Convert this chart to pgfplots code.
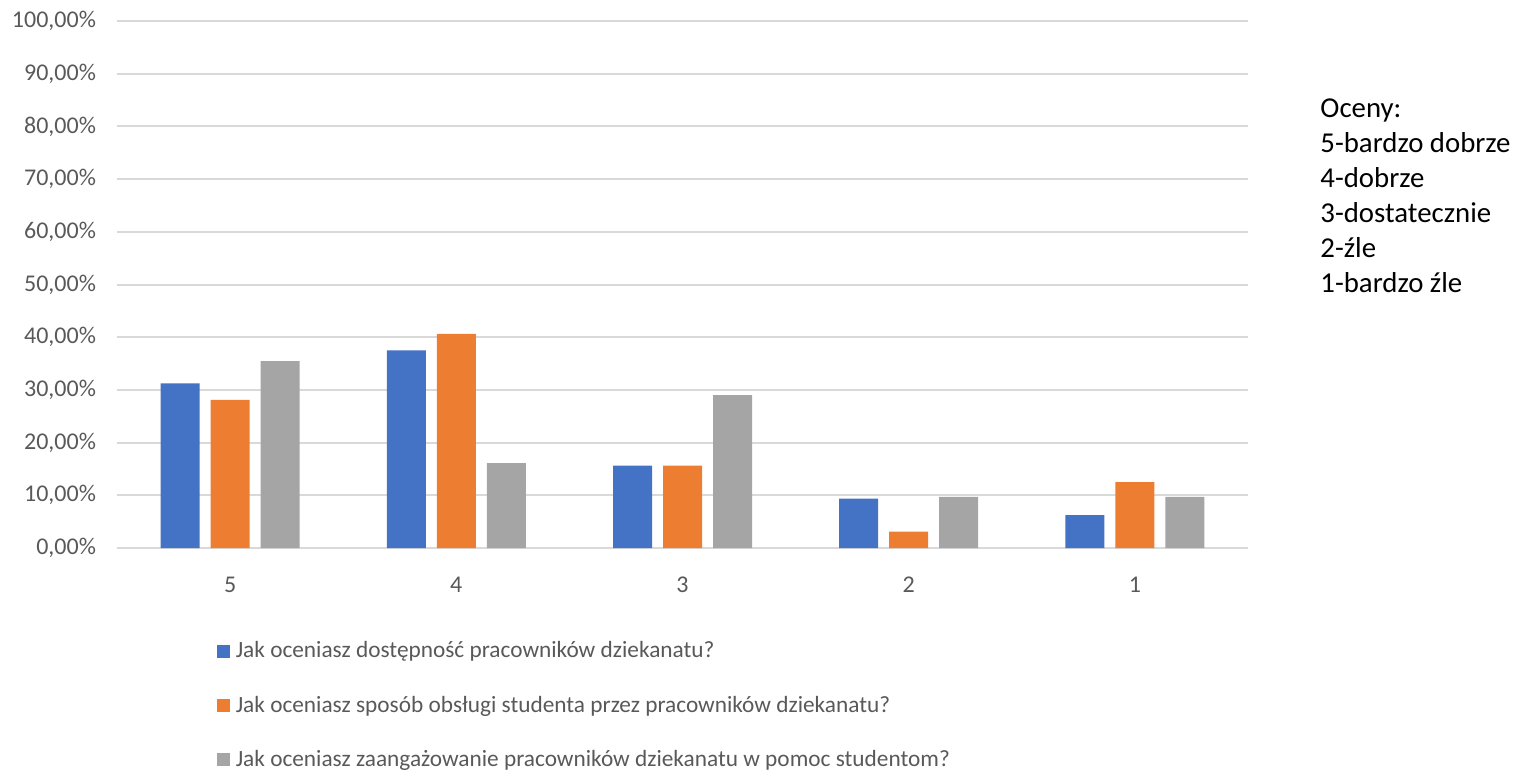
\documentclass[border=0pt]{standalone}
\usepackage{pgfplots}
\pgfplotsset{compat=1.18}
\usepackage{fontspec}
\setmainfont{Carlito}
\definecolor{cblue}{HTML}{4472C4}
\definecolor{corange}{HTML}{ED7D31}
\definecolor{cgray}{HTML}{A5A5A5}
\definecolor{ctext}{HTML}{595959}
\definecolor{cgrid}{HTML}{D9D9D9}
\begin{document}
\begin{tikzpicture}
\path[use as bounding box] (0,0) rectangle (764pt,386.5pt);
\begin{axis}[
  at={(58.5pt,112.5pt)}, anchor=south west,
  scale only axis, width=565.5pt, height=263.5pt,
  ybar=5.5pt, bar width=19.5pt,
  xmin=-0.5, xmax=4.5, ymin=0, ymax=1,
  xtick=data, xticklabels={5,4,3,2,1},
  ytick={0,0.1,...,1.01},
  yticklabels={{0,00\%},{10,00\%},{20,00\%},{30,00\%},{40,00\%},{50,00\%},{60,00\%},{70,00\%},{80,00\%},{90,00\%},{100,00\%}},
  /pgf/number format/assume math mode=true,
  axis line style={draw=none},
  major tick length=0pt,
  ymajorgrids, grid style={cgrid, line width=1pt},
  tick label style={font=\fontsize{12}{14}\selectfont, text=ctext},
  yticklabel style={anchor=east, xshift=-7pt},
  xticklabel style={anchor=north, yshift=-11pt},
  legend style={at={(0.0877,-0.171)}, anchor=north west, draw=none, fill=none,
    font=\fontsize{11.65}{14}\selectfont, text=ctext, row sep=14.6pt,
    legend cell align=left, inner sep=0pt, nodes={inner sep=1.5pt}},
  legend image code/.code={\fill[#1] (0pt,-3.3pt) rectangle (6.6pt,3.3pt);},
  legend cell align=left,
  clip=false,
]
\addplot[fill=cblue, draw=none] coordinates {(0,0.3125) (1,0.375) (2,0.15625) (3,0.09375) (4,0.0625)};
\addplot[fill=corange, draw=none] coordinates {(0,0.28125) (1,0.40625) (2,0.15625) (3,0.03125) (4,0.125)};
\addplot[fill=cgray, draw=none] coordinates {(0,0.3548) (1,0.1613) (2,0.2903) (3,0.0968) (4,0.0968)};
\legend{\hspace{1.5pt}Jak oceniasz dostępność pracowników dziekanatu?,\hspace{1.5pt}Jak oceniasz sposób obsługi studenta przez pracowników dziekanatu?,\hspace{1.5pt}Jak oceniasz zaangażowanie pracowników dziekanatu w pomoc studentom?}
\node[anchor=north west, align=left, inner sep=0pt, font=\fontsize{14.4}{17.5}\selectfont]
  at (rel axis cs:1.0637,0.853) {Oceny:\\5-bardzo dobrze\\4-dobrze\\3-dostatecznie\\2-źle\\1-bardzo źle};
\end{axis}
\end{tikzpicture}
\end{document}
